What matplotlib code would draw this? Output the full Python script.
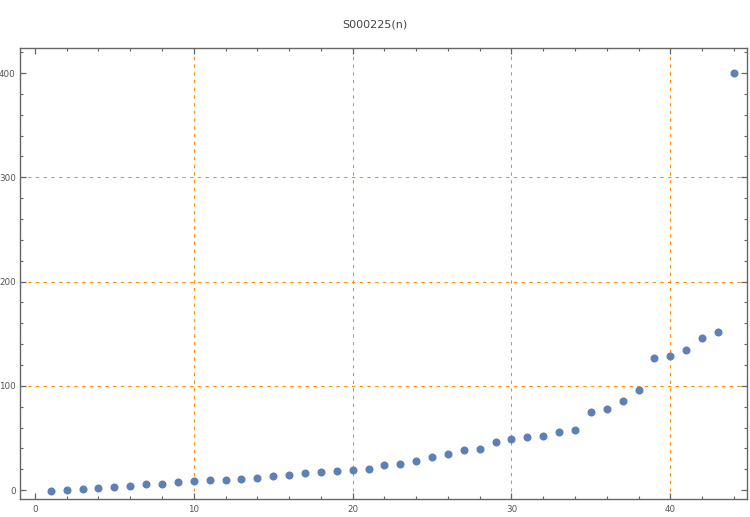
import matplotlib
matplotlib.use('Agg')
import matplotlib.pyplot as plt
from matplotlib.ticker import MultipleLocator

# values
n = list(range(1, 45))
vals = [-1, 0, 1, 2, 3, 4, 6, 6, 8, 9,
        10, 10, 11, 12, 13, 14, 16, 17, 18, 19,
        20, 24, 25, 28, 32, 35, 38, 39, 46, 49,
        51, 52, 56, 58, 75, 78, 85, 96, 127, 129,
        134, 146, 152, 400]
x_grid = [10, 20, 30, 40]
y_grid = [100, 200, 300]
title = 'S000225(n)'

fig = plt.figure(figsize=(7.5, 5.17), dpi=100)
ax = fig.add_axes([0.0267, 0.0348, 0.9693, 0.8722])

# dashed orange grid lines, thin
grid_col = '#FF8C00'
dash = (0, (3.2, 4.2))
for g in x_grid:
    ax.axvline(g, color=grid_col, lw=0.75, ls=dash, zorder=1)
for g in y_grid:
    ax.axhline(g, color=grid_col, lw=0.75, ls=dash, zorder=1)

ax.plot(n, vals, 'o', color='#5E81B5', markersize=5.8, markeredgewidth=0, zorder=3)

ax.set_xlim(-0.94, 44.83)
ax.set_ylim(-8.6, 424)
ax.xaxis.set_major_locator(MultipleLocator(10))
ax.xaxis.set_minor_locator(MultipleLocator(2))
ax.yaxis.set_major_locator(MultipleLocator(100))
ax.yaxis.set_minor_locator(MultipleLocator(20))

spine_col = '#666666'
for s in ax.spines.values():
    s.set_color(spine_col)
    s.set_linewidth(1.0)
ax.tick_params(which='both', direction='in', top=True, right=True,
               color=spine_col, labelcolor='#555555', labelsize=6.3)
ax.tick_params(which='major', length=4, width=0.9)
ax.tick_params(which='minor', length=2.5, width=0.8)
ax.tick_params(axis='y', which='major', pad=3)
ax.tick_params(axis='x', which='major', pad=4.5)

fig.text(0.5, 0.953, title, ha='center', va='center', fontsize=8, color='#444444')

fig.savefig('out.png', dpi=100)
